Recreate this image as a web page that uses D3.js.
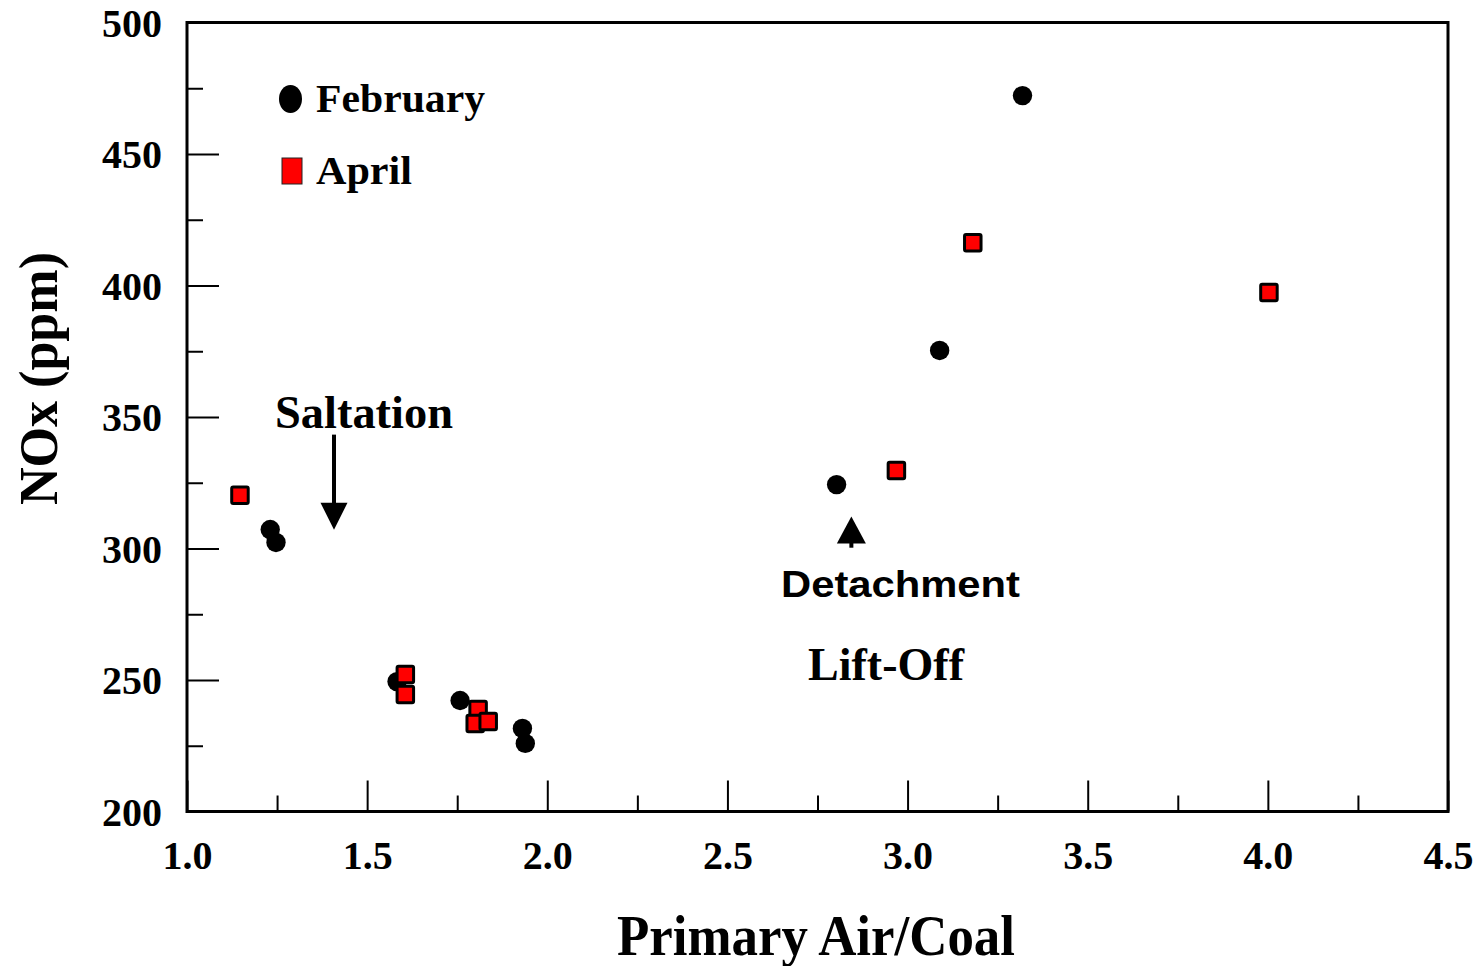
<!DOCTYPE html>
<html>
<head>
<meta charset="utf-8">
<script src="https://cdn.jsdelivr.net/npm/d3@7"></script>
<style>
  html, body { margin: 0; padding: 0; background: #fff; }
  svg { display: block; }
</style>
</head>
<body>
<svg id="chart" width="1481" height="966"></svg>
<script>
// NOx emissions versus primary air / coal ratio, two test campaigns
const febRatio = [1.231, 1.247, 1.583, 1.758, 1.931, 1.939, 2.803, 3.089, 3.319];
const febNOx   = [307.2, 302.3, 249.4, 242.2, 231.6, 225.9, 324.3, 375.3, 472.2];

const aprRatio = [1.147, 1.606, 1.606, 1.808, 1.800, 1.836, 2.969, 3.181, 4.003];
const aprNOx   = [320.2, 252.1, 244.5, 238.8, 233.5, 234.2, 329.7, 416.3, 397.3];

const xMajorTicks = [1.0, 1.5, 2.0, 2.5, 3.0, 3.5, 4.0, 4.5];
const xMinorTicks = [1.25, 1.75, 2.25, 2.75, 3.25, 3.75, 4.25];
const yMajorTicks = [200, 250, 300, 350, 400, 450, 500];
const yMinorTicks = [225, 275, 325, 375, 425, 475];

const seriesNames = ["February", "April"];

const svg = d3.select("#chart");
const serif = "'Liberation Serif', 'Times New Roman', serif";
const sans = "'Liberation Sans', Arial, sans-serif";

const x = d3.scaleLinear().domain([1.0, 4.5]).range([187, 1448]);
const y = d3.scaleLinear().domain([200, 500]).range([811.5, 22.5]);

// ---- axes (ticks point inward) ----
const gx = svg.append("g").attr("transform", `translate(0,${y(200)})`);
gx.call(d3.axisBottom(x).tickValues(xMajorTicks).tickSize(-31).tickFormat(d3.format(".1f")));
const gxMinor = svg.append("g").attr("transform", `translate(0,${y(200)})`);
gxMinor.call(d3.axisBottom(x).tickValues(xMinorTicks).tickSize(-16).tickFormat(""));

const gy = svg.append("g").attr("transform", `translate(${x(1.0)},0)`);
gy.call(d3.axisLeft(y).tickValues(yMajorTicks).tickSize(-32).tickFormat(d3.format("d")));
const gyMinor = svg.append("g").attr("transform", `translate(${x(1.0)},0)`);
gyMinor.call(d3.axisLeft(y).tickValues(yMinorTicks).tickSize(-16).tickFormat(""));

svg.selectAll(".domain").remove();
svg.selectAll(".tick line").attr("stroke", "#000").attr("stroke-width", 2);

gx.selectAll(".tick text")
  .attr("y", 57).attr("dy", 0)
  .attr("font-family", serif).attr("font-weight", "bold").attr("font-size", 40)
  .attr("fill", "#000");
gy.selectAll(".tick text")
  .attr("x", -25).attr("dy", "0.34em")
  .attr("font-family", serif).attr("font-weight", "bold").attr("font-size", 40)
  .attr("fill", "#000");

// plot frame
svg.append("rect")
  .attr("x", x(1.0)).attr("y", y(500))
  .attr("width", x(4.5) - x(1.0)).attr("height", y(200) - y(500))
  .attr("fill", "none").attr("stroke", "#000").attr("stroke-width", 3);

// ---- axis titles ----
svg.append("text")
  .attr("x", 617).attr("y", 955)
  .attr("font-family", serif).attr("font-weight", "bold").attr("font-size", 56)
  .attr("textLength", 398).attr("lengthAdjust", "spacingAndGlyphs")
  .text("Primary Air/Coal");

svg.append("text")
  .attr("transform", "translate(57,505) rotate(-90)")
  .attr("font-family", serif).attr("font-weight", "bold").attr("font-size", 54)
  .attr("textLength", 253).attr("lengthAdjust", "spacingAndGlyphs")
  .text("NOx (ppm)");

// ---- data marks ----
const feb = febRatio.map((r, i) => ({ r, v: febNOx[i] }));
const apr = aprRatio.map((r, i) => ({ r, v: aprNOx[i] }));

svg.append("g").selectAll("circle").data(feb).join("circle")
  .attr("cx", d => x(d.r)).attr("cy", d => y(d.v))
  .attr("r", 9.7).attr("fill", "#000");

const sq = 16.5;
svg.append("g").selectAll("rect").data(apr).join("rect")
  .attr("x", d => x(d.r) - sq / 2).attr("y", d => y(d.v) - sq / 2)
  .attr("width", sq).attr("height", sq).attr("rx", 1.5)
  .attr("fill", "#ff0000").attr("stroke", "#000").attr("stroke-width", 3);

// ---- legend ----
svg.append("ellipse")
  .attr("cx", 290.5).attr("cy", 99).attr("rx", 11.5).attr("ry", 14)
  .attr("fill", "#000");
svg.append("rect")
  .attr("x", 282).attr("y", 158).attr("width", 20).attr("height", 26)
  .attr("fill", "#ff0000").attr("stroke", "#222").attr("stroke-width", 1);
svg.append("text")
  .attr("x", 316).attr("y", 112)
  .attr("font-family", serif).attr("font-weight", "bold").attr("font-size", 40)
  .attr("textLength", 169).attr("lengthAdjust", "spacingAndGlyphs")
  .text(seriesNames[0]);
svg.append("text")
  .attr("x", 316).attr("y", 184)
  .attr("font-family", serif).attr("font-weight", "bold").attr("font-size", 40)
  .attr("textLength", 96).attr("lengthAdjust", "spacingAndGlyphs")
  .text(seriesNames[1]);

// ---- annotations ----
// Saltation: downward arrow
const saltX = 1.408;
svg.append("text")
  .attr("x", 275).attr("y", 428)
  .attr("font-family", serif).attr("font-weight", "bold").attr("font-size", 47)
  .attr("textLength", 178).attr("lengthAdjust", "spacingAndGlyphs")
  .text("Saltation");
svg.append("line")
  .attr("x1", x(saltX)).attr("x2", x(saltX))
  .attr("y1", y(343.3)).attr("y2", y(316))
  .attr("stroke", "#000").attr("stroke-width", 4);
svg.append("path")
  .attr("d", `M${x(saltX) - 13.5},${y(317.4)} L${x(saltX) + 13.5},${y(317.4)} L${x(saltX)},${y(307.1)} Z`)
  .attr("fill", "#000");

// Detachment / Lift-Off: upward arrow
const detX = 2.844;
svg.append("path")
  .attr("d", `M${x(detX) - 14.5},${y(301.9)} L${x(detX) + 14.5},${y(301.9)} L${x(detX)},${y(312.2)} Z`)
  .attr("fill", "#000");
svg.append("line")
  .attr("x1", x(detX)).attr("x2", x(detX))
  .attr("y1", y(303)).attr("y2", y(300.3))
  .attr("stroke", "#000").attr("stroke-width", 4);
svg.append("text")
  .attr("x", 781).attr("y", 597)
  .attr("font-family", sans).attr("font-weight", "bold").attr("font-size", 37)
  .attr("textLength", 239).attr("lengthAdjust", "spacingAndGlyphs")
  .text("Detachment");
svg.append("text")
  .attr("x", 808).attr("y", 680)
  .attr("font-family", serif).attr("font-weight", "bold").attr("font-size", 47)
  .attr("textLength", 156).attr("lengthAdjust", "spacingAndGlyphs")
  .text("Lift-Off");
</script>
</body>
</html>
